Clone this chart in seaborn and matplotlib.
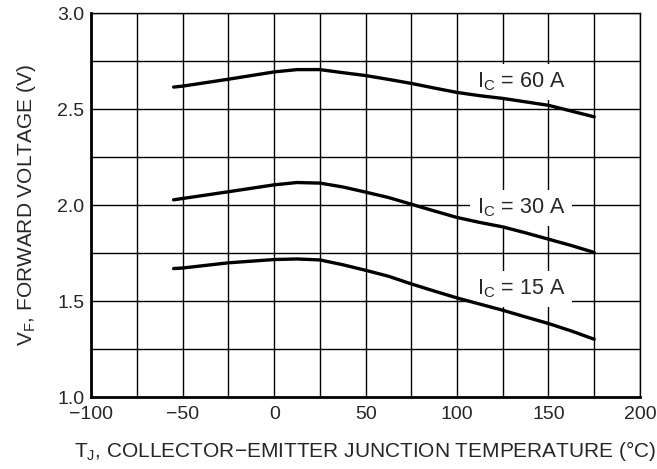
import seaborn as sns
import matplotlib.pyplot as plt
import pandas as pd
from matplotlib.ticker import MultipleLocator

# values
temps = [-55, -50, -25, 0, 12.5, 25, 37.5, 50, 62.5, 75, 87.5, 100, 112.5, 125, 137.5, 150, 162.5, 175]
vf_60a = [2.615, 2.62, 2.656, 2.694, 2.706, 2.706, 2.69, 2.675, 2.655, 2.634, 2.61, 2.587,
          2.57, 2.556, 2.538, 2.52, 2.49, 2.46]
vf_30a = [2.028, 2.035, 2.07, 2.106, 2.118, 2.115, 2.095, 2.068, 2.04, 2.005, 1.97, 1.936,
          1.91, 1.887, 1.856, 1.823, 1.79, 1.754]
vf_15a = [1.670, 1.673, 1.70, 1.717, 1.72, 1.715, 1.69, 1.661, 1.63, 1.59, 1.553, 1.517,
          1.485, 1.453, 1.418, 1.384, 1.345, 1.302]
labels = ['I$_\\mathregular{C}$ = 60 A', 'I$_\\mathregular{C}$ = 30 A', 'I$_\\mathregular{C}$ = 15 A']
label_pos = [(135, 2.613), (135, 1.957), (135, 1.535)]

df = pd.concat([
    pd.DataFrame({'T': temps, 'V': vf_60a, 'Ic': '60'}),
    pd.DataFrame({'T': temps, 'V': vf_30a, 'Ic': '30'}),
    pd.DataFrame({'T': temps, 'V': vf_15a, 'Ic': '15'}),
])

sns.set_style("white")
plt.rcParams['font.family'] = ['Liberation Sans', 'DejaVu Sans']
plt.rcParams['mathtext.fontset'] = 'custom'
plt.rcParams['mathtext.rm'] = 'Liberation Sans'

fig, ax = plt.subplots(figsize=(6.57, 4.69), dpi=100)
fig.subplots_adjust(left=0.139, right=0.974, top=0.972, bottom=0.153)

sns.lineplot(data=df, x='T', y='V', units='Ic', estimator=None, color='black',
             linewidth=2.4, ax=ax, legend=False, zorder=4)

# white boxes hide the grid behind the labels, curves stay on top
for txt, (x, y) in zip(labels, label_pos):
    ax.text(x, y, txt, ha='center', va='baseline', fontsize=15.5,
            bbox=dict(facecolor='white', edgecolor='none', pad=5), zorder=3)

ax.set_xlim(-100, 200)
ax.set_ylim(1.0, 3.0)
ax.xaxis.set_major_locator(MultipleLocator(50))
ax.xaxis.set_minor_locator(MultipleLocator(25))
ax.yaxis.set_major_locator(MultipleLocator(0.5))
ax.yaxis.set_minor_locator(MultipleLocator(0.25))
ax.yaxis.set_major_formatter(plt.FormatStrFormatter('%.1f'))
ax.grid(which='both', color='black', linewidth=1.0)
ax.set_axisbelow(True)
ax.tick_params(which='both', length=0, labelsize=14)
ax.tick_params(axis='x', pad=6)
ax.tick_params(axis='y', pad=5)

for side in ['top', 'right']:
    ax.spines[side].set_linewidth(1.0)
for side in ['left', 'bottom']:
    ax.spines[side].set_linewidth(2)
for s in ax.spines.values():
    s.set_color('black')

ax.set_xlabel('T$_\\mathregular{J}$, COLLECTOR\u2212EMITTER JUNCTION TEMPERATURE (\u00b0C)',
              fontsize=15, labelpad=12)
ax.set_ylabel('V$_\\mathregular{F}$, FORWARD VOLTAGE (V)', fontsize=15, labelpad=14)

fig.savefig('out.png', dpi=100)
